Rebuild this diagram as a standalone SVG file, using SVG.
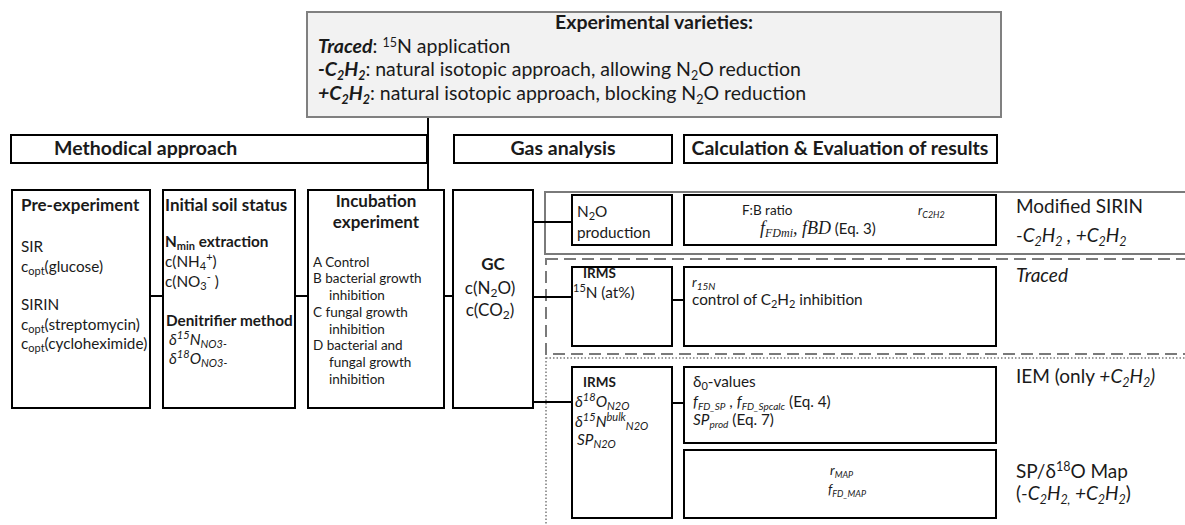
<svg xmlns="http://www.w3.org/2000/svg" width="1185" height="525" viewBox="0 0 1185 525">
<style>
text{font-family:Lato,"Liberation Sans",sans-serif;fill:#1a1a1a;}
.b{font-weight:bold;}
.i{font-style:italic;}
.box{fill:#fff;stroke:#000;stroke-width:2;}
.top{fill:#f2f2f2;stroke:#808080;stroke-width:2;}
.gsolid{fill:none;stroke:#7a7a7a;stroke-width:2;}
.gdash{fill:none;stroke:#7a7a7a;stroke-width:2;stroke-dasharray:12 6;}
.gdot{fill:none;stroke:#7a7a7a;stroke-width:1.5;stroke-dasharray:1.5 2;}
.con{stroke:#000;stroke-width:2;fill:none;}
.tv{font-size:19.5px;}
.th{font-size:19.5px;}
.tl{font-size:19px;}
.t18{font-size:17px;}
.t16{font-size:15.3px;}
.t14{font-size:13.5px;}
.t13{font-size:12.5px;}
.serif{font-family:"Liberation Serif",serif;font-style:italic;}
</style>

<g id="group-frames">
<rect class="gsolid" x="545" y="192" width="700" height="62"/>
<rect class="gdash" x="546" y="259" width="700" height="95"/>
<rect class="gdot" x="546" y="358" width="700" height="200"/>
</g>

<g id="connectors">
<line class="con" x1="428" y1="117" x2="428" y2="190"/>
<line class="con" x1="150" y1="296" x2="163" y2="296"/>
<line class="con" x1="295" y1="296" x2="308" y2="296"/>
<line class="con" x1="444" y1="296" x2="453" y2="296"/>
<line class="con" x1="533" y1="222" x2="572" y2="222"/>
<line class="con" x1="533" y1="297" x2="572" y2="297"/>
<line class="con" x1="533" y1="402" x2="572" y2="402"/>
<line class="con" x1="672" y1="300" x2="684" y2="300"/>
<line class="con" x1="672" y1="403" x2="684" y2="403"/>
</g>

<g id="varieties">
<rect class="top" x="307" y="12" width="694" height="105"/>
<text class="tv b" x="654" y="29" text-anchor="middle">Experimental varieties:</text>
<text class="tv" x="318" y="53"><tspan class="b i">Traced</tspan>: <tspan font-size="12.5" dy="-6">15</tspan><tspan dy="6">N application</tspan></text>
<text class="tv" x="318" y="76"><tspan class="b i">-C<tspan font-size="12.5" dy="4">2</tspan><tspan dy="-4">H</tspan><tspan font-size="12.5" dy="4">2</tspan></tspan><tspan dy="-4">: natural isotopic approach, allowing N</tspan><tspan font-size="12.5" dy="4">2</tspan><tspan dy="-4">O reduction</tspan></text>
<text class="tv" x="318" y="100"><tspan class="b i">+C<tspan font-size="12.5" dy="4">2</tspan><tspan dy="-4">H</tspan><tspan font-size="12.5" dy="4">2</tspan></tspan><tspan dy="-4">: natural isotopic approach, blocking N</tspan><tspan font-size="12.5" dy="4">2</tspan><tspan dy="-4">O reduction</tspan></text>
</g>

<g id="hdr-method">
<rect class="box" x="11" y="135" width="416" height="28"/>
<text class="th b" x="54" y="155">Methodical approach</text>
</g>
<g id="hdr-gas">
<rect class="box" x="454" y="135" width="218" height="28"/>
<text class="th b" x="563" y="155" text-anchor="middle">Gas analysis</text>
</g>
<g id="hdr-calc">
<rect class="box" x="684" y="135" width="313" height="28"/>
<text class="th b" x="840" y="155" text-anchor="middle">Calculation &amp; Evaluation of results</text>
</g>

<g id="pre-experiment">
<rect class="box" x="12" y="190" width="138" height="218"/>
<text class="t18 b" x="21" y="211">Pre-experiment</text>
<text class="t16" x="21" y="252">SIR</text>
<text class="t16" x="21" y="272">c<tspan font-size="11" dy="3">opt</tspan><tspan dy="-3">(glucose)</tspan></text>
<text class="t16" x="21" y="310">SIRIN</text>
<text class="t16" x="21" y="330">c<tspan font-size="11" dy="3">opt</tspan><tspan dy="-3">(streptomycin)</tspan></text>
<text class="t16" x="21" y="349">c<tspan font-size="11" dy="3">opt</tspan><tspan dy="-3">(cycloheximide)</tspan></text>
</g>

<g id="initial-soil">
<rect class="box" x="163" y="190" width="132" height="218"/>
<text class="t18 b" x="165" y="211">Initial soil status</text>
<text class="t16 b" x="165" y="247">N<tspan font-size="11" dy="3">min</tspan><tspan dy="-3"> extraction</tspan></text>
<text class="t16" x="165" y="267">c(NH<tspan font-size="11" dy="3">4</tspan><tspan font-size="11" dy="-9">+</tspan><tspan dy="6">)</tspan></text>
<text class="t16" x="165" y="287">c(NO<tspan font-size="11" dy="3">3</tspan><tspan font-size="11" dy="-9">-</tspan><tspan dy="6"> )</tspan></text>
<text class="t16 b" x="166" y="326">Denitrifier method</text>
<text class="t16 i" x="169" y="345">δ<tspan font-size="11" dy="-6">15</tspan><tspan dy="6">N</tspan><tspan font-size="11" dy="3">NO3-</tspan></text>
<text class="t16 i" x="169" y="364">δ<tspan font-size="11" dy="-6">18</tspan><tspan dy="6">O</tspan><tspan font-size="11" dy="3">NO3-</tspan></text>
</g>

<g id="incubation">
<rect class="box" x="308" y="190" width="136" height="218"/>
<text class="t18 b" x="376" y="207" text-anchor="middle">Incubation</text>
<text class="t18 b" x="376" y="228" text-anchor="middle">experiment</text>
<text class="t14" x="313" y="267">A Control</text>
<text class="t14" x="313" y="283">B bacterial growth</text>
<text class="t14" x="329" y="300">inhibition</text>
<text class="t14" x="313" y="317">C fungal growth</text>
<text class="t14" x="329" y="334">inhibition</text>
<text class="t14" x="313" y="350">D bacterial and</text>
<text class="t14" x="329" y="367">fungal growth</text>
<text class="t14" x="329" y="384">inhibition</text>
</g>

<g id="gc">
<rect class="box" x="453" y="190" width="80" height="218"/>
<text class="t18 b" x="493" y="270" text-anchor="middle">GC</text>
<text class="t18" x="490" y="294" text-anchor="middle">c(N<tspan font-size="12" dy="3">2</tspan><tspan dy="-3">O)</tspan></text>
<text class="t18" x="490" y="316" text-anchor="middle">c(CO<tspan font-size="12" dy="3">2</tspan><tspan dy="-3">)</tspan></text>
</g>

<g id="n2o-production">
<rect class="box" x="572" y="195" width="100" height="50"/>
<text class="t16" x="577" y="217">N<tspan font-size="11" dy="3">2</tspan><tspan dy="-3">O</tspan></text>
<text class="t16" x="577" y="238">production</text>
</g>

<g id="fb-ratio">
<rect class="box" x="684" y="195" width="312" height="50"/>
<text class="t14" x="742" y="215">F:B ratio</text>
<text class="t13 i" x="918" y="215">r<tspan font-size="9" dy="3">C2H2</tspan></text>
<text x="760" y="234"><tspan class="serif" font-size="18">f</tspan><tspan class="serif" font-size="12" dy="3">FDmi</tspan><tspan class="serif" font-size="18" dy="-3">, fBD</tspan><tspan font-size="15"> (Eq. 3)</tspan></text>
</g>

<g id="irms-15n">
<rect class="box" x="572" y="267" width="100" height="79"/>
<text class="t14 b" x="583" y="278">IRMS</text>
<text class="t16" x="573" y="298"><tspan font-size="11" dy="-6">15</tspan><tspan dy="6">N (at%)</tspan></text>
</g>

<g id="r15n">
<rect class="box" x="684" y="267" width="312" height="79"/>
<text class="t14 i" x="692" y="287">r<tspan font-size="10" dy="3">15N</tspan></text>
<text class="t16" x="692" y="305">control of C<tspan font-size="11" dy="3">2</tspan><tspan dy="-3">H</tspan><tspan font-size="11" dy="3">2</tspan><tspan dy="-3"> inhibition</tspan></text>
</g>

<g id="irms-iso">
<rect class="box" x="572" y="367" width="100" height="151"/>
<text class="t14 b" x="583" y="387">IRMS</text>
<text class="t16 i" x="575" y="407">δ<tspan font-size="11" dy="-6">18</tspan><tspan dy="6">O</tspan><tspan font-size="11" dy="3">N2O</tspan></text>
<text class="t16 i" x="575" y="427">δ<tspan font-size="11" dy="-6">15</tspan><tspan dy="6">N</tspan><tspan font-size="11" dy="-6">bulk</tspan><tspan font-size="11" dy="9">N2O</tspan></text>
<text class="t16 i" x="577" y="445">SP<tspan font-size="11" dy="3">N2O</tspan></text>
</g>

<g id="iem-calc">
<rect class="box" x="684" y="367" width="312" height="76"/>
<text class="t16" x="693" y="387">δ<tspan font-size="11" dy="3">0</tspan><tspan dy="-3">-values</tspan></text>
<text class="t16" x="693" y="407"><tspan class="i">f</tspan><tspan class="i" font-size="10" dy="3">FD_SP</tspan><tspan dy="-3"> , </tspan><tspan class="i">f</tspan><tspan class="i" font-size="10" dy="3">FD_Spcalc</tspan><tspan dy="-3"> (Eq. 4)</tspan></text>
<text class="t16" x="693" y="425"><tspan class="i">SP</tspan><tspan class="i" font-size="10" dy="3">prod</tspan><tspan dy="-3"> (Eq. 7)</tspan></text>
</g>

<g id="map-calc">
<rect class="box" x="684" y="450" width="312" height="68"/>
<text class="t14 i" x="830" y="475">r<tspan font-size="9" dy="3">MAP</tspan></text>
<text class="t14 i" x="828" y="494">f<tspan font-size="9" dy="3">FD_MAP</tspan></text>
</g>

<g id="labels">
<text class="tl" x="1016" y="213">Modified SIRIN</text>
<text class="tl i" x="1016" y="242">-C<tspan font-size="12.5" dy="4">2</tspan><tspan dy="-4">H</tspan><tspan font-size="12.5" dy="4">2</tspan><tspan dy="-4"> , +C</tspan><tspan font-size="12.5" dy="4">2</tspan><tspan dy="-4">H</tspan><tspan font-size="12.5" dy="4">2</tspan></text>
<text class="tl i" x="1016" y="282">Traced</text>
<text class="tl" x="1016" y="383">IEM (only <tspan class="i">+C</tspan><tspan class="i" font-size="12.5" dy="4">2</tspan><tspan class="i" dy="-4">H</tspan><tspan class="i" font-size="12.5" dy="4">2</tspan><tspan class="i" dy="-4">)</tspan></text>
<text class="tl" x="1016" y="478">SP/δ<tspan font-size="12.5" dy="-7">18</tspan><tspan dy="7">O Map</tspan></text>
<text class="tl" x="1016" y="500">(<tspan class="i">-C</tspan><tspan class="i" font-size="12.5" dy="4">2</tspan><tspan class="i" dy="-4">H</tspan><tspan class="i" font-size="12.5" dy="4">2,</tspan><tspan class="i" dy="-4"> +C</tspan><tspan class="i" font-size="12.5" dy="4">2</tspan><tspan class="i" dy="-4">H</tspan><tspan class="i" font-size="12.5" dy="4">2</tspan><tspan dy="-4">)</tspan></text>
</g>
</svg>
